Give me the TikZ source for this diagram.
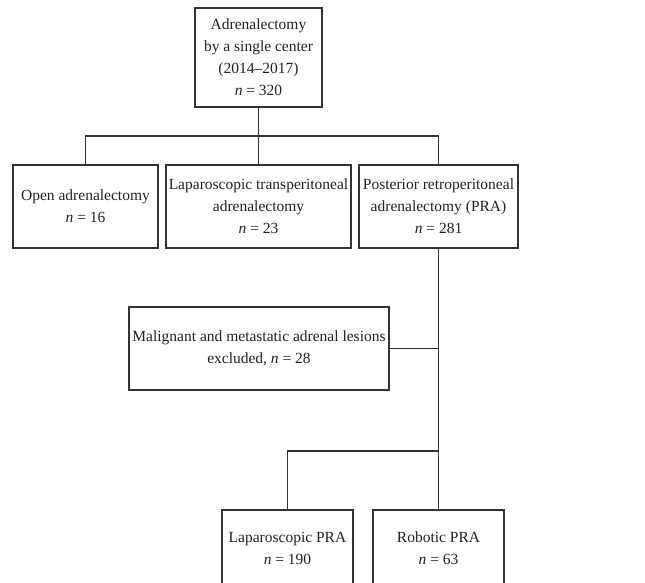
\documentclass[tikz,border=0pt]{standalone}
\usepackage{fontspec}
\setmainfont{Liberation Serif}
\begin{document}
\definecolor{linec}{HTML}{333333}
\definecolor{txtc}{HTML}{222222}
\begin{tikzpicture}[x=1pt,y=-1pt,
  box/.style={draw=linec, line width=1.1pt, align=center, inner sep=2pt,
    text=txtc, font=\fontsize{15.5}{22}\selectfont},
  conn/.style={draw=linec, line width=1.1pt}]
\clip (0,0) rectangle (645,582);
\fill[white] (0,0) rectangle (645,582);
\node[box, minimum width=127pt, minimum height=99pt] (top) at (258.5,57.5)
  {Adrenalectomy\\by a single center\\(2014--2017)\\\textit{n} = 320};
\node[box, minimum width=145pt, minimum height=83pt] (open) at (85.5,206.5)
  {Open adrenalectomy\\\textit{n} = 16};
\node[box, minimum width=185pt, minimum height=83pt] (lap) at (258.5,206.5)
  {Laparoscopic transperitoneal\\adrenalectomy\\\textit{n} = 23};
\node[box, minimum width=159pt, minimum height=83pt] (pra) at (438.5,206.5)
  {Posterior retroperitoneal\\adrenalectomy (PRA)\\\textit{n} = 281};
\node[box, minimum width=260pt, minimum height=83pt] (excl) at (259,348.5)
  {Malignant and metastatic adrenal lesions\\excluded, \textit{n} = 28};
\node[box, minimum width=131pt, minimum height=76pt] (lpra) at (287.5,548)
  {Laparoscopic PRA\\\textit{n} = 190};
\node[box, minimum width=131pt, minimum height=76pt] (rpra) at (438.5,548)
  {Robotic PRA\\\textit{n} = 63};
\coordinate (bus1) at (258.5,136);
\coordinate (j1) at (438.5,348.5);
\coordinate (bus2) at (438.5,451);
\draw[conn] (top.south) -- (bus1);
\draw[conn] (open.north) |- (bus1) -| (pra.north);
\draw[conn] (bus1) -- (lap.north);
\draw[conn] (pra.south) -- (rpra.north);
\draw[conn] (excl.east) -- (j1);
\draw[conn] (bus2) -| (lpra.north);
\end{tikzpicture}
\end{document}
